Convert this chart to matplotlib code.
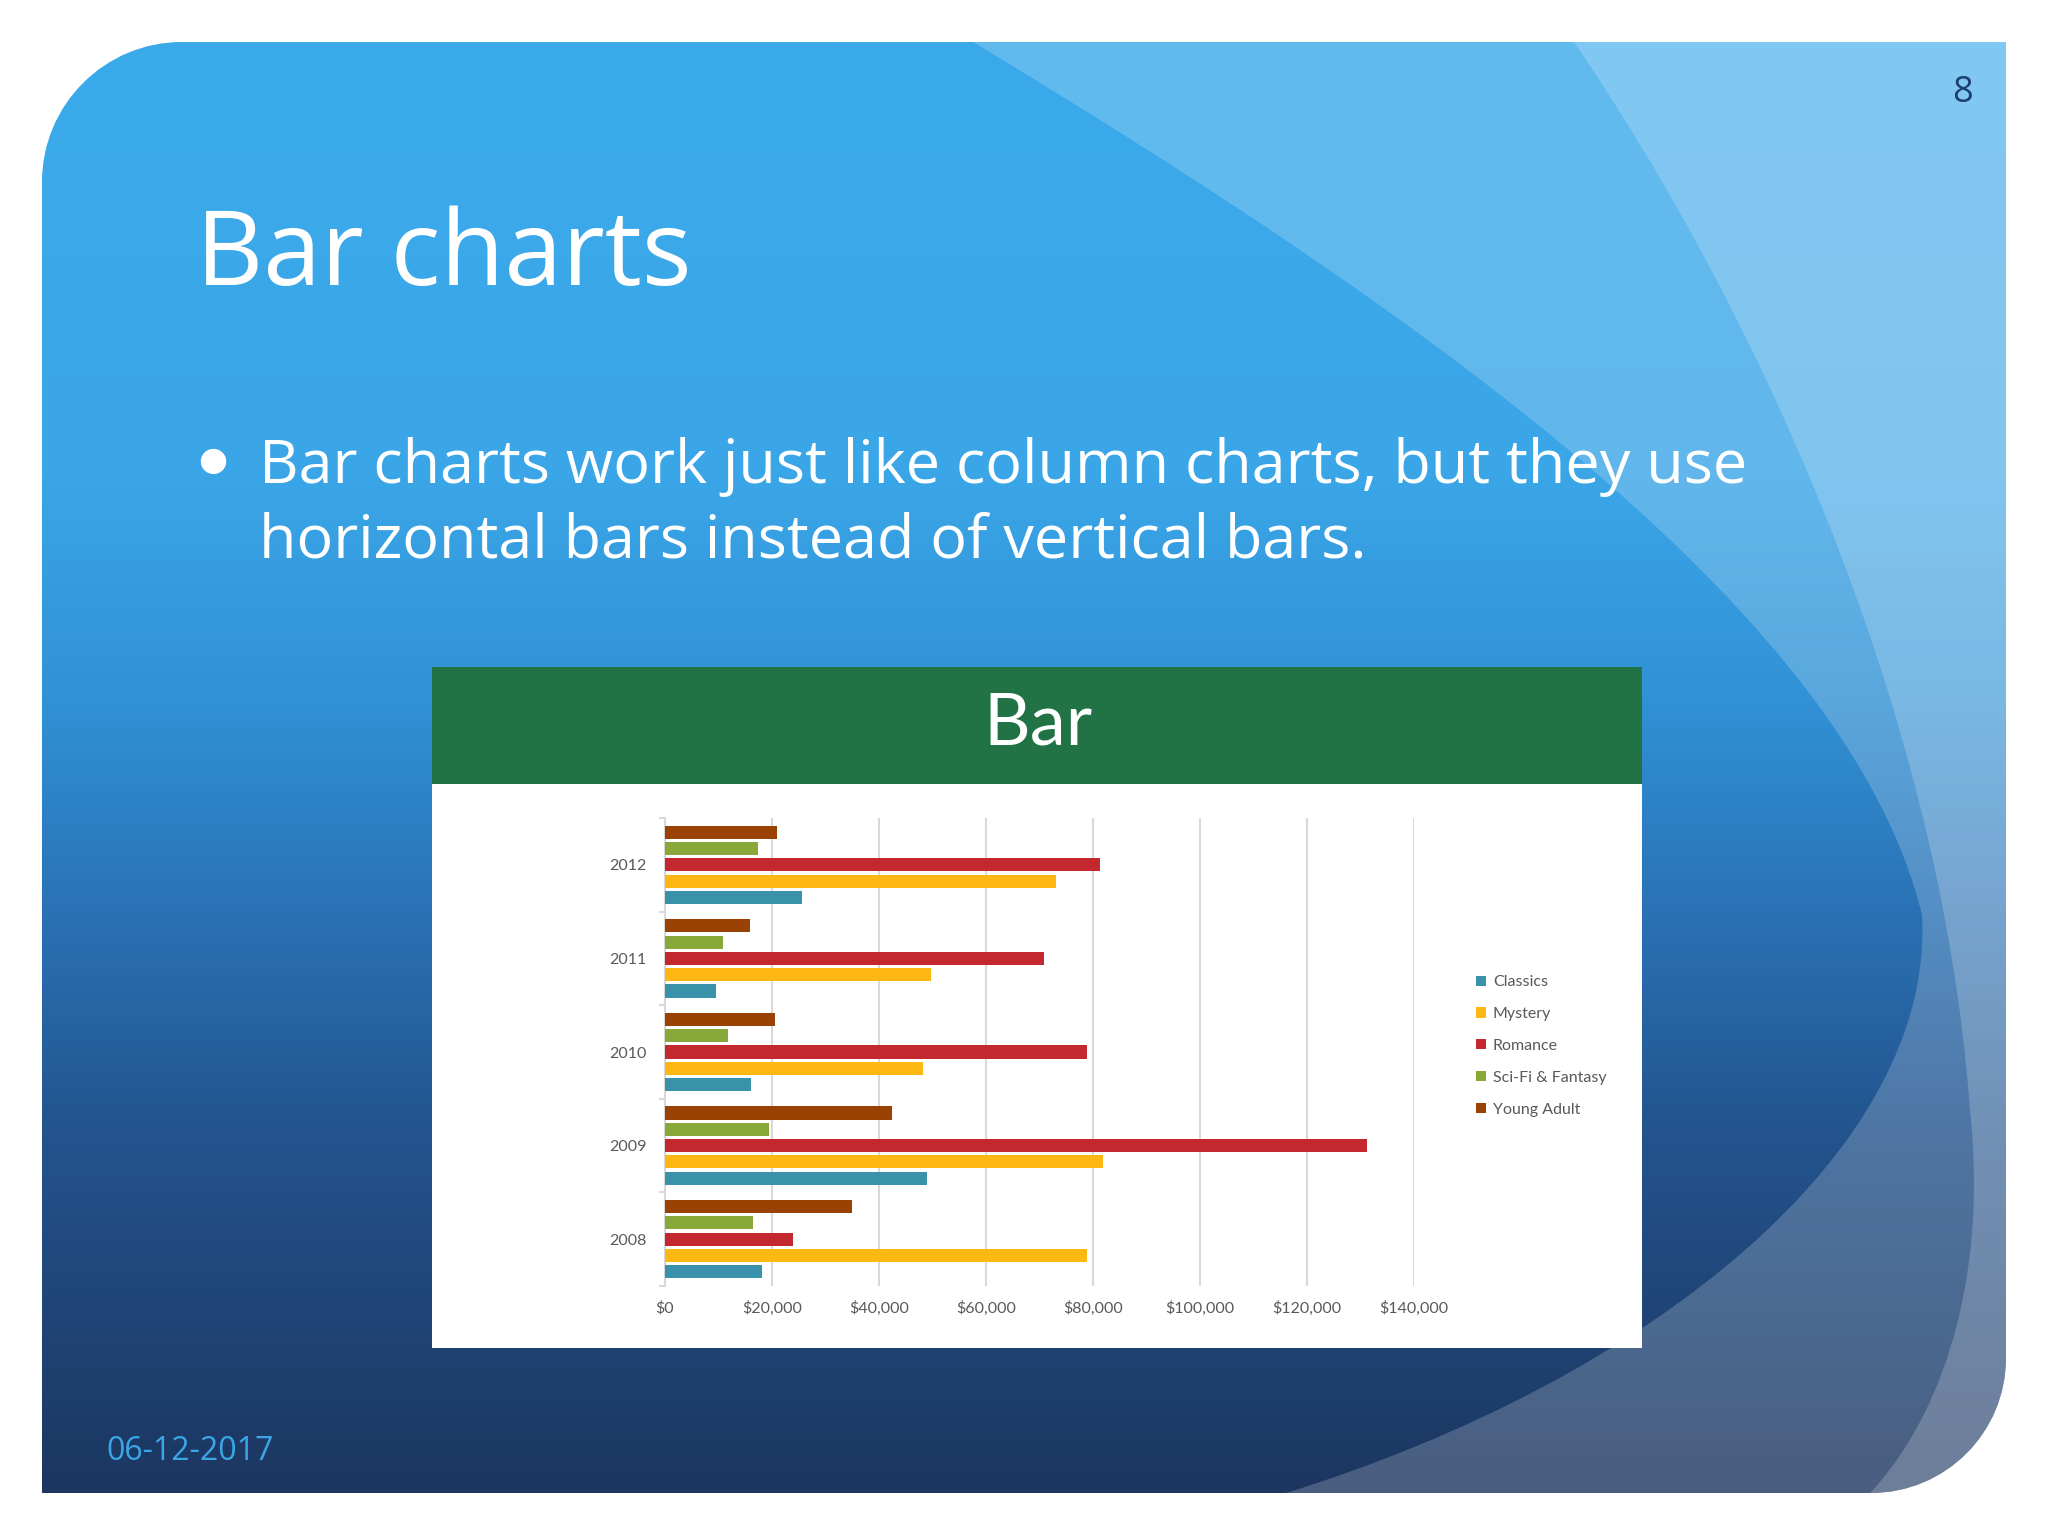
import numpy as np
import matplotlib
matplotlib.use('Agg')
import matplotlib.pyplot as plt
from matplotlib.path import Path
from matplotlib.patches import PathPatch, Rectangle
from matplotlib.colors import to_rgb

# Data
years = ['2008', '2009', '2010', '2011', '2012']
series = ['Classics', 'Mystery', 'Romance', 'Sci-Fi & Fantasy', 'Young Adult']
classics = [18200, 48900, 16000, 9600, 25700]
mystery = [78800, 81900, 48300, 49700, 73100]
romance = [23900, 131300, 78800, 70800, 81300]
scifi = [16400, 19400, 11700, 10900, 17400]
young_adult = [35000, 42400, 20500, 15800, 21000]
colors = ['#3A91AA', '#FDB813', '#C3282F', '#88A83A', '#9A4203']
xticks = [0, 20000, 40000, 60000, 80000, 100000, 120000, 140000]
xtick_labels = ['$0', '$20,000', '$40,000', '$60,000', '$80,000',
                '$100,000', '$120,000', '$140,000']

W, H = 2048, 1536
fig = plt.figure(figsize=(W / 100, H / 100), dpi=100, facecolor='white')

# ---- slide background (pixel coordinates, y down)
bg = fig.add_axes([0, 0, 1, 1])
bg.set_xlim(0, W)
bg.set_ylim(H, 0)
bg.axis('off')

L, T, R, B = 42, 42, 2006, 1493
r1, r2 = 140, 135
k = 0.5523
verts = [(L + r1, T), (R, T), (R, B - r2),
         (R, B - r2 + k * r2), (R - r2 + k * r2, B), (R - r2, B),
         (L, B), (L, T + r1),
         (L, T + r1 - k * r1), (L + r1 - k * r1, T), (L + r1, T),
         (L + r1, T)]
codes = [Path.MOVETO, Path.LINETO, Path.LINETO,
         Path.CURVE4, Path.CURVE4, Path.CURVE4,
         Path.LINETO, Path.LINETO,
         Path.CURVE4, Path.CURVE4, Path.CURVE4,
         Path.CLOSEPOLY]
slide = PathPatch(Path(verts, codes), facecolor='none', edgecolor='none')
bg.add_patch(slide)

stops = [0.0, 0.30, 0.45, 0.60, 0.75, 0.90, 1.0]
stop_cols = ['#3BAAEB', '#3AA6E7', '#3192D6', '#2A72B5', '#23548E', '#1F4272', '#1C3660']
t = np.linspace(0, 1, 512)
rgb = np.array([to_rgb(c) for c in stop_cols])
grad = np.stack([np.interp(t, stops, rgb[:, i]) for i in range(3)], axis=-1)[:, None, :]
im = bg.imshow(grad, extent=(L, R, B, T), aspect='auto', zorder=0)
im.set_clip_path(slide)

band1 = Path([(973, 42), (1450, 330), (1850, 620), (1922, 915),
              (1935, 1150), (1650, 1380), (1286, 1493),
              (R, B), (R, T), (973, 42)],
             [Path.MOVETO, Path.CURVE4, Path.CURVE4, Path.CURVE4,
              Path.CURVE4, Path.CURVE4, Path.CURVE4,
              Path.LINETO, Path.LINETO, Path.CLOSEPOLY])
band2 = Path([(1574, 42), (1750, 300), (1940, 700), (1970, 1110),
              (1990, 1300), (1930, 1430), (1870, 1493),
              (R, B), (R, T), (1574, 42)],
             [Path.MOVETO, Path.CURVE4, Path.CURVE4, Path.CURVE4,
              Path.CURVE4, Path.CURVE4, Path.CURVE4,
              Path.LINETO, Path.LINETO, Path.CLOSEPOLY])
for p in (band1, band2):
    pp = PathPatch(p, facecolor='white', edgecolor='none', alpha=0.2, zorder=1)
    bg.add_patch(pp)
    pp.set_clip_path(slide)

# chart panel
bg.add_patch(Rectangle((432, 784), 1210, 564, facecolor='white', edgecolor='none', zorder=2))
bg.add_patch(Rectangle((432, 667), 1210, 117, facecolor='#217346', edgecolor='none', zorder=2))
bg.text(1038, 724, 'Bar', color='white', fontsize=52, family='Lato',
        ha='center', va='center', zorder=3)

# slide texts
bg.text(196, 285, 'Bar charts', color='white', fontsize=75, family='Open Sans',
        ha='left', va='baseline', zorder=3)
bg.text(213, 460, '\u25CF', color='white', fontsize=24, family='DejaVu Sans',
        ha='center', va='center', zorder=3)
bg.text(259, 483, 'Bar charts work just like column charts, but they use',
        color='white', fontsize=44, family='Open Sans', ha='left', va='baseline', zorder=3)
bg.text(259, 558, 'horizontal bars instead of vertical bars.',
        color='white', fontsize=44, family='Open Sans', ha='left', va='baseline', zorder=3)
bg.text(1963, 93, '8', color='#1B3F73', fontsize=26, family='Open Sans',
        ha='center', va='center', zorder=3)
bg.text(106, 1451, '06-12-2017', color='#3BA5E6', fontsize=23, family='Open Sans',
        ha='left', va='center', zorder=3)

# ---- bar chart
ax = fig.add_axes([665 / W, 1 - 1286 / H, 749 / W, 468 / H])
ax.patch.set_alpha(0)
y = np.arange(len(years))
pitch = 0.174
for i, (name, vals) in enumerate(zip(series, [classics, mystery, romance, scifi, young_adult])):
    ax.barh(y + (i - 2) * pitch, vals, height=0.14, color=colors[i], label=name, zorder=3)

ax.set_xlim(0, 140000)
ax.set_ylim(-0.5, len(years) - 0.5)
ax.set_xticks(xticks)
ax.set_xticklabels(xtick_labels)
ax.set_yticks(y)
ax.set_yticklabels(years)
ax.set_yticks(np.arange(-0.5, len(years)), minor=True)
ax.grid(axis='x', color='#D9D9D9', linewidth=1.5, zorder=0)
for s in ['top', 'right', 'bottom']:
    ax.spines[s].set_visible(False)
ax.spines['left'].set_color('#D9D9D9')
ax.spines['left'].set_linewidth(1.5)
ax.tick_params(axis='x', length=0, pad=11, labelsize=11.5, labelcolor='#595959')
ax.tick_params(axis='y', which='major', length=0, pad=13, labelsize=11.5, labelcolor='#595959')
ax.tick_params(axis='y', which='minor', length=4, width=1.5, color='#D9D9D9')
for lab in ax.get_xticklabels() + ax.get_yticklabels():
    lab.set_family('Lato')

fig.legend(loc='center left', bbox_to_anchor=(1476 / W, 1 - 1046 / H),
           frameon=False, prop={'family': 'Lato', 'size': 11.5},
           labelcolor='#595959', handlelength=0.6, handleheight=0.6,
           handletextpad=0.45, labelspacing=1.12, borderpad=0, borderaxespad=0)

fig.savefig('out.png', dpi=100, facecolor='white')
